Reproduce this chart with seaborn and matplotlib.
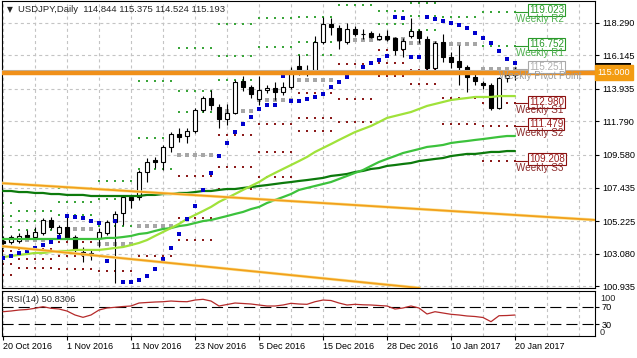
import numpy as np
import pandas as pd
import matplotlib
matplotlib.use("Agg")
import matplotlib.pyplot as plt
import matplotlib.patches as mpatches
import seaborn as sns

# ── Daily candles, 20 Oct 2016 .. 20 Jan 2017 (one value per bar) ────────────
opens = [103.92, 103.85, 103.92, 104.31, 104.18, 104.44, 105.30, 104.44, 104.84, 104.18,
         103.19, 103.00, 104.12, 104.44, 105.17, 105.76, 106.82, 106.82, 108.46, 109.25,
         109.12, 110.11, 110.96, 110.83, 111.16, 112.54, 113.33, 112.74, 111.95, 112.35,
         114.45, 114.06, 113.27, 113.86, 113.99, 113.73, 114.06, 115.44, 115.18, 115.18,
         117.02, 118.21, 117.94, 117.02, 117.88, 117.55, 117.61, 117.22, 117.42, 117.28,
         116.56, 117.42, 117.74, 117.22, 115.31, 117.02, 116.03, 115.77, 115.37, 114.72,
         114.32, 114.19, 112.67, 114.65, 114.844]
highs = [104.25, 104.31, 104.44, 104.64, 104.84, 105.43, 105.53, 104.97, 105.50, 104.31,
         103.52, 103.33, 104.77, 105.30, 105.90, 106.95, 106.95, 108.59, 109.38, 109.45,
         110.24, 111.09, 111.36, 111.36, 112.67, 113.46, 113.86, 112.94, 112.94, 114.52,
         114.78, 114.19, 114.78, 114.19, 114.39, 114.39, 115.37, 116.16, 115.51, 117.42,
         118.66, 118.60, 118.14, 118.27, 118.07, 117.88, 117.74, 117.61, 117.82, 117.35,
         117.28, 118.60, 117.88, 117.42, 117.09, 117.52, 116.36, 116.82, 115.51, 114.98,
         114.45, 114.32, 114.72, 115.00, 115.375]
lows = [103.46, 103.72, 103.79, 104.05, 104.12, 104.31, 104.71, 104.25, 103.98, 103.19,
        102.54, 102.67, 103.52, 104.31, 101.15, 104.97, 106.09, 106.62, 107.80, 108.72,
        108.59, 109.78, 110.44, 110.37, 111.03, 112.41, 112.54, 111.36, 111.55, 112.28,
        113.79, 113.33, 112.87, 113.66, 113.20, 113.53, 113.93, 114.85, 114.78, 115.04,
        116.89, 117.48, 116.56, 116.89, 117.42, 117.22, 117.28, 117.15, 117.09, 116.16,
        116.03, 117.28, 116.95, 115.18, 115.06, 115.70, 115.31, 114.19, 113.75, 114.19,
        113.93, 112.54, 112.61, 114.40, 114.524]
closes = [103.79, 104.18, 104.25, 104.18, 104.51, 105.30, 104.84, 104.84, 104.12, 103.33,
          103.00, 103.13, 104.51, 105.17, 105.70, 106.82, 106.62, 108.46, 109.12, 109.12,
          110.11, 110.96, 110.77, 111.16, 112.54, 113.33, 112.87, 111.95, 112.35, 114.39,
          114.06, 113.60, 113.86, 113.99, 113.73, 114.06, 115.18, 115.18, 115.11, 117.02,
          118.21, 118.01, 117.15, 117.88, 117.55, 117.53, 117.35, 117.42, 117.22, 116.49,
          117.09, 117.74, 117.28, 115.31, 116.95, 116.03, 115.70, 115.37, 114.72, 114.48,
          114.19, 112.67, 114.65, 114.84, 115.193]

# ── Indicators ────────────────────────────────────────────────────────────────
ma_fast = [102.86, 102.93, 103.00, 103.06, 103.13, 103.13, 103.19, 103.26, 103.26, 103.33,
           103.33, 103.33, 103.33, 103.39, 103.46, 103.52, 103.65, 103.79, 103.98, 104.25,
           104.51, 104.77, 105.04, 105.37, 105.63, 105.89, 106.16, 106.49, 106.75, 107.01,
           107.28, 107.54, 107.80, 108.13, 108.40, 108.66, 108.92, 109.18, 109.45, 109.78,
           110.04, 110.30, 110.57, 110.83, 111.09, 111.29, 111.49, 111.75, 112.02, 112.15,
           112.28, 112.41, 112.61, 112.81, 112.94, 113.07, 113.20, 113.27, 113.33, 113.40,
           113.40, 113.40, 113.46, 113.46, 113.46]
ma_mid = [104.05, 104.05, 104.05, 104.05, 104.05, 104.05, 104.05, 104.05, 104.05, 104.05,
          104.05, 104.05, 104.05, 104.12, 104.12, 104.18, 104.25, 104.38, 104.44, 104.58,
          104.71, 104.77, 104.90, 104.97, 105.10, 105.23, 105.30, 105.43, 105.56, 105.70,
          105.83, 106.02, 106.16, 106.42, 106.62, 106.81, 107.01, 107.28, 107.41, 107.54,
          107.67, 107.80, 108.00, 108.20, 108.40, 108.59, 108.86, 109.12, 109.32, 109.51,
          109.71, 109.84, 109.97, 110.11, 110.17, 110.24, 110.37, 110.44, 110.50, 110.57,
          110.63, 110.70, 110.77, 110.83, 110.83]
ma_slow = [107.21, 107.21, 107.14, 107.14, 107.08, 107.08, 107.01, 107.01, 106.95, 106.95,
           106.95, 106.88, 106.88, 106.88, 106.88, 106.88, 106.88, 106.88, 106.95, 106.95,
           107.01, 107.01, 107.08, 107.08, 107.14, 107.21, 107.21, 107.28, 107.34, 107.34,
           107.41, 107.47, 107.54, 107.60, 107.67, 107.74, 107.80, 107.87, 107.93, 108.00,
           108.07, 108.20, 108.26, 108.33, 108.46, 108.53, 108.66, 108.72, 108.86, 108.92,
           108.99, 109.05, 109.18, 109.25, 109.32, 109.38, 109.51, 109.58, 109.65, 109.65,
           109.71, 109.78, 109.78, 109.84, 109.84]
sar = [102.80, 102.93, 103.13, 103.26, 103.46, 103.65, 103.85, 104.18, 105.56, 105.50,
       105.43, 105.24, 105.10, 102.60, 105.24, 101.22, 101.22, 101.35, 101.61, 102.08,
       102.73, 103.46, 104.38, 105.37, 106.22, 107.28, 108.40, 109.51, 110.37, 111.09,
       111.62, 112.08, 112.61, 112.87, 112.87, 114.78, 113.14, 113.14, 113.27, 113.40,
       113.60, 114.06, 114.39, 114.72, 115.04, 115.37, 115.64, 115.84, 116.10, 118.67,
       118.60, 116.03, 116.03, 118.67, 118.53, 118.40, 118.27, 118.14, 117.94, 117.61,
       117.28, 116.95, 116.43, 115.90, 115.64]
rsi = [58.5, 60.1, 62.4, 63.6, 66.4, 70.1, 66.4, 64.7, 60.1, 50.9,
       45.5, 50.9, 62.4, 67.1, 68.7, 70.5, 71.7, 78.6, 79.8, 80.9,
       81.6, 83.2, 82.1, 81.6, 85.5, 87.2, 83.2, 71.7, 75.1, 78.6,
       77.5, 76.3, 74.0, 71.7, 71.7, 74.0, 77.9, 76.3, 75.6, 81.6,
       85.5, 84.4, 78.6, 74.0, 75.6, 74.5, 74.0, 72.8, 71.7, 64.7,
       67.1, 71.7, 67.1, 53.2, 58.5, 55.5, 52.5, 50.9, 48.6, 47.4,
       45.1, 35.4, 49.2, 49.7, 50.8306]

# ── Weekly pivot levels (one entry per week) ──────────────────────────────────
week_first = [0, 2, 7, 12, 17, 22, 27, 32, 37, 42, 47, 51, 55, 60]
week_last = [1, 6, 11, 16, 21, 26, 31, 36, 41, 46, 50, 54, 59, 64]
piv_r3 = [106.45, 105.91, 107.39, 107.84, 114.43, 116.63, 118.20, 118.57, 118.67, 123.40, 119.90, 119.62, 122.20, 120.52]
piv_r2 = [105.54, 105.23, 106.46, 106.67, 110.69, 113.79, 116.10, 116.70, 117.02, 121.01, 119.08, 118.72, 120.41, 119.023]
piv_r1 = [104.87, 104.66, 105.61, 104.89, 108.67, 112.41, 114.52, 115.10, 116.16, 119.48, 118.19, 117.84, 118.68, 116.752]
piv_pp = [103.96, 103.98, 104.68, 103.72, 104.93, 109.58, 112.45, 113.23, 114.52, 117.13, 117.20, 116.94, 116.87, 115.251]
piv_s1 = [103.29, 103.41, 103.83, 101.94, 102.91, 108.20, 110.90, 111.63, 113.66, 115.60, 116.48, 116.06, 115.14, 112.980]
piv_s2 = [102.38, 102.73, 102.90, 100.77, 99.17, 105.40, 108.80, 109.76, 112.02, 113.25, 115.66, 115.16, 113.33, 111.479]
piv_s3 = [101.71, 102.16, 102.05, 98.99, 97.15, 104.00, 107.35, 108.16, 111.16, 111.72, 114.77, 114.28, 111.60, 109.208]

# ── Objects drawn on the chart ────────────────────────────────────────────────
trend_hi = [(0, 107.72), (64, 105.63)]
trend_lo = [(0, 103.57), (40, 101.46)]
hline_price = 115.000
bid_price = 115.193

price_ticks = [118.290, 116.145, 113.935, 111.790, 109.580, 107.435, 105.225, 103.080, 100.935]
date_bars = [0, 8, 16, 24, 32, 40, 48, 56, 64]
date_labels = ["20 Oct 2016", "1 Nov 2016", "11 Nov 2016", "23 Nov 2016", "5 Dec 2016",
               "15 Dec 2016", "28 Dec 2016", "10 Jan 2017", "20 Jan 2017"]

# ── Style ─────────────────────────────────────────────────────────────────────
sns.set_theme(style="white")
plt.rcParams.update({
    "font.family": ["Liberation Sans", "DejaVu Sans"],
    "font.size": 6.6,
    "lines.scale_dashes": False,
    "axes.edgecolor": "black",
    "axes.linewidth": 0.8,
})
GRID = dict(color="#c4c4c4", lw=0.8, ls=(0, (2.2, 2.2)), zorder=0.5)
PIV_COL = {"R": "#3aa53a", "P": "#a6a6a6", "S": "#8b1a1a"}
PIV_SIZE = {"R": 2.5, "P": 7, "S": 2.5}
BOX_EDGE = {"R": "#2a9a2a", "P": "#a8a8a8", "S": "#8b1010"}
BOX_TXT = {"R": "#2a9a2a", "P": "#b0b0b0", "S": "#9b1c1c"}
NAME_COL = {"R": "#4cae4c", "P": "#9c9c9c", "S": "#8b2a2a"}

W, H = 637, 358
fig = plt.figure(figsize=(W / 100, H / 100), dpi=100)
fig.patch.set_facecolor("white")


def px_axes(x0, y0, x1, y1):
    return fig.add_axes([x0 / W, 1 - y1 / H, (x1 - x0) / W, (y1 - y0) / H])


ax = px_axes(2, 1, 595, 288)
ax2 = px_axes(2, 291, 595, 336)

bars = np.arange(len(opens))
o, h, l, c = map(np.array, (opens, highs, lows, closes))

# grid
for b in range(0, 75, 4):
    ax.axvline(b, **GRID)
    ax2.axvline(b, **GRID)
for t in price_ticks:
    ax.axhline(t, **GRID)

# weekly pivots as dotted rows
rows = []
for w in range(len(week_first)):
    for b in range(week_first[w], week_last[w] + 1):
        for kind, lv in (("R", piv_r3[w]), ("R", piv_r2[w]), ("R", piv_r1[w]),
                         ("P", piv_pp[w]), ("S", piv_s1[w]), ("S", piv_s2[w]),
                         ("S", piv_s3[w])):
            rows.append((b, lv, kind))
piv = pd.DataFrame(rows, columns=["bar", "price", "kind"])
for kind, grp in piv.groupby("kind"):
    sns.scatterplot(data=grp, x="bar", y="price", marker="s", s=PIV_SIZE[kind],
                    color=PIV_COL[kind], linewidth=0, ax=ax, zorder=2, legend=False)

# candles
ax.vlines(bars, l, h, color="black", lw=0.8, zorder=3)
body_lo = np.minimum(o, c)
body_h = np.maximum(np.abs(c - o), 0.012)
face = np.where(c >= o, "white", "black")
ax.bar(bars, body_h, bottom=body_lo, width=0.62, color=face,
       edgecolor="black", linewidth=0.8, zorder=3.1)

# moving averages and parabolic SAR
for vals, col in ((ma_slow, "#0c7a0c"), (ma_mid, "#3cc23c"), (ma_fast, "#a0e23a")):
    sns.lineplot(x=bars, y=vals, color=col, lw=1.6, ax=ax, zorder=4)
sns.scatterplot(x=bars, y=sar, marker="s", s=6, color="#0000cd", linewidth=0,
                ax=ax, zorder=5, legend=False)

# trend lines and horizontal line
for p1, p2 in (trend_hi, trend_lo):
    ax.axline(p1, p2, color="#fbe59a", lw=2.2, zorder=6)
    ax.axline(p1, p2, color="#f2a01c", lw=1.3, zorder=6.1)
ax.axhline(bid_price, color="#b8b8b8", lw=0.8, zorder=6.2)
ax.axhline(hline_price, color="#f0901a", lw=3.2, zorder=7)

# labels for the current week's pivots
last = len(week_first) - 1
x0 = week_last[last]
lvl_info = [("Weekly R2", piv_r2[last], "R"), ("Weekly R1", piv_r1[last], "R"),
            ("Weekly Pivot Point", piv_pp[last], "P"), ("Weekly S1", piv_s1[last], "S"),
            ("Weekly S2", piv_s2[last], "S"), ("Weekly S3", piv_s3[last], "S")]
for name, lv, k in lvl_info:
    ax.plot([x0, x0 + 1.5], [lv, lv], color=BOX_EDGE[k], lw=0.8, zorder=8)
    ax.annotate(f"{lv:.3f}", xy=(x0 + 1.5, lv), xytext=(1.4, 1.2),
                textcoords="offset points", ha="left", va="center", fontsize=7.1,
                color=BOX_TXT[k], zorder=8.5, annotation_clip=False,
                bbox=dict(boxstyle="square,pad=0.1", fc="white", ec=BOX_EDGE[k], lw=0.8))
    ax.annotate(name, xy=(x0 + 3.1, lv), xytext=(0, -5.0), textcoords="offset points",
                ha="center", va="center", fontsize=7.1, color=NAME_COL[k], zorder=9,
                annotation_clip=False)

# price-axis markers: bid box mostly hidden behind the 115.000 label
ytr = ax.get_yaxis_transform()
ax.add_patch(mpatches.Rectangle((1.0, bid_price - 0.45), 0.06, 0.9, transform=ytr,
                                facecolor="black", edgecolor="none", clip_on=False,
                                zorder=9))
ax.text(1.004, hline_price, f"{hline_price:.3f}", transform=ytr, ha="left", va="center",
        color="white", fontsize=6.6, zorder=10, clip_on=False,
        bbox=dict(boxstyle="square,pad=0.3", fc="#f39c12", ec="#f39c12"))

ax.set_xlim(-0.125, 74.0)
ax.set_ylim(100.823, 119.719)
ax.set_xticks([])
ax.set_xlabel("")
ax.set_ylabel("")
ax.yaxis.tick_right()
ax.set_yticks(price_ticks, [f"{t:.3f}" for t in price_ticks])
ax.tick_params(axis="y", direction="out", length=3, width=0.8, pad=2,
               labelsize=6.6, colors="black", right=True, left=False)

# RSI panel
sns.lineplot(x=bars, y=rsi, color="#b52a2a", lw=0.9, ax=ax2, zorder=3)
for lv in (70, 30):
    ax2.axhline(lv, color="black", lw=0.8, ls=(0, (8, 3.6)), zorder=2)
ax2.set_xlim(-0.125, 74.0)
ax2.set_ylim(2.3, 106.4)
ax2.set_xlabel("")
ax2.set_ylabel("")
ax2.yaxis.tick_right()
ax2.set_yticks([70, 30], ["70", "30"])
ax2.tick_params(axis="y", direction="out", length=3, width=0.8, pad=2,
                labelsize=6.6, colors="black", right=True, left=False)
ytr2 = ax2.get_yaxis_transform()
ax2.text(1.0085, 100, "100", transform=ytr2, ha="left", va="top", fontsize=6.6, clip_on=False)
ax2.text(1.0085, 0, "0", transform=ytr2, ha="left", va="bottom", fontsize=6.6, clip_on=False)
ax2.set_xticks(date_bars, date_labels)
for lbl in ax2.get_xticklabels():
    lbl.set_ha("left")
ax2.tick_params(axis="x", direction="out", length=3, width=0.8, pad=1.5,
                labelsize=6.5, colors="black", bottom=True)

# header texts
fig.text(7 / W, 1 - 10 / H, "\u25bc", fontsize=5.5, va="center", ha="left",
         family=["DejaVu Sans"])
fig.text(18 / W, 1 - 10 / H,
         f"USDJPY,Daily  {opens[-1]:.3f} {highs[-1]:.3f} {lows[-1]:.3f} {closes[-1]:.3f}",
         fontsize=6.8, va="center", ha="left")
fig.text(7 / W, 1 - 300 / H, f"RSI(14) {rsi[-1]:.4f}", fontsize=6.7, va="center", ha="left")

fig.savefig("out.png", dpi=100, facecolor="white")
